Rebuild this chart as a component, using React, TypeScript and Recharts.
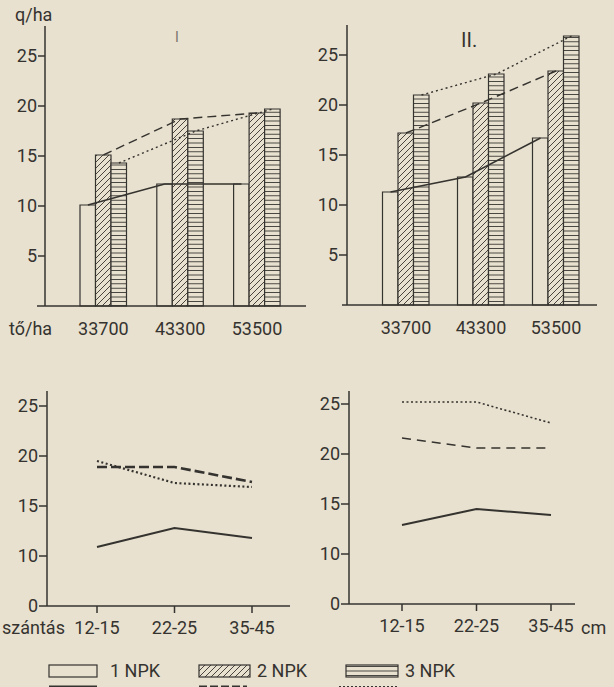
import { ComposedChart, LineChart, Bar, Line, XAxis, YAxis } from "recharts";

const INK = "#35332f";
const PAPER = "#e8e1cf";
const FONT = "Roboto, 'Liberation Sans', sans-serif";

// upper panels: yield (q/ha) by plant density (tő/ha)
const densities = ["33700", "43300", "53500"];
const topI_npk1 = [10.1, 12.2, 12.2];
const topI_npk2 = [15.1, 18.7, 19.3];
const topI_npk3 = [14.3, 17.5, 19.7];
const topII_npk1 = [11.3, 12.8, 16.7];
const topII_npk2 = [17.2, 20.2, 23.4];
const topII_npk3 = [21.0, 23.1, 26.9];

// lower panels: yield by ploughing depth (szántás, cm)
const depths = ["12-15", "22-25", "35-45"];
const botI_npk1 = [10.9, 12.8, 11.8];
const botI_npk2 = [18.9, 18.9, 17.4];
const botI_npk3 = [19.5, 17.3, 16.9];
const botII_npk1 = [12.9, 14.5, 13.9];
const botII_npk2 = [21.6, 20.6, 20.6];
const botII_npk3 = [25.2, 25.2, 23.1];

const topTicks = [5, 10, 15, 20, 25];
// lower panels use a broken axis: the "0" tick sits where 5 would be
const AXIS_BREAK = 5;
const botTicks = [AXIS_BREAK, 10, 15, 20, 25];

const BAR = 15.5;

const tickStyle = { fill: INK, fontSize: 18, fontFamily: FONT };
const axisStyle = { stroke: INK, strokeWidth: 1.5 };

type TopProps = {
  n1: number[];
  n2: number[];
  n3: number[];
  width: number;
  height: number;
  margin: { top: number; right: number; bottom: number; left: number };
  yWidth: number;
  padL: number;
  padR: number;
  tickSize: number;
};

function TopPanel({ n1, n2, n3, width, height, margin, yWidth, padL, padR, tickSize }: TopProps) {
  const data = densities.map((name, i) => ({ name, n1: n1[i], n2: n2[i], n3: n3[i] }));
  return (
    <ComposedChart width={width} height={height} data={data} margin={margin} barGap={0} barCategoryGap={0}>
      <XAxis
        dataKey="name"
        interval={0}
        padding={{ left: padL, right: padR }}
        stroke={INK}
        tickLine={false}
        tickSize={0}
        tickMargin={16}
        height={30}
        axisLine={axisStyle}
        tick={tickStyle}
      />
      {/* hidden axes so each line runs over the top of its own bar */}
      <XAxis xAxisId="a" dataKey="name" hide padding={{ left: padL - BAR, right: padR + BAR }} />
      <XAxis xAxisId="c" dataKey="name" hide padding={{ left: padL + BAR, right: padR - BAR }} />
      <YAxis
        domain={[0, 28]}
        ticks={topTicks}
        width={yWidth}
        stroke={INK}
        tickSize={tickSize}
        tickMargin={1}
        axisLine={axisStyle}
        tickLine={axisStyle}
        tick={tickStyle}
      />
      <Bar dataKey="n1" barSize={BAR} fill={PAPER} stroke={INK} strokeWidth={1.2} isAnimationActive={false} />
      <Bar dataKey="n2" barSize={BAR} fill="url(#hatch)" stroke={INK} strokeWidth={1.2} isAnimationActive={false} />
      <Bar dataKey="n3" barSize={BAR} fill="url(#horiz)" stroke={INK} strokeWidth={1.2} isAnimationActive={false} />
      <Line xAxisId="a" dataKey="n1" type="linear" stroke={INK} strokeWidth={1.6} dot={false} isAnimationActive={false} />
      <Line dataKey="n2" type="linear" stroke={INK} strokeWidth={1.4} strokeDasharray="9 5" dot={false} isAnimationActive={false} />
      <Line xAxisId="c" dataKey="n3" type="linear" stroke={INK} strokeWidth={1.4} strokeDasharray="2 3" dot={false} isAnimationActive={false} />
    </ComposedChart>
  );
}

type BotProps = {
  n1: number[];
  n2: number[];
  n3: number[];
  width: number;
  height: number;
  margin: { top: number; right: number; bottom: number; left: number };
  yWidth: number;
  yMax: number;
  padL: number;
  padR: number;
  heavy: boolean;
};

function BottomPanel({ n1, n2, n3, width, height, margin, yWidth, yMax, padL, padR, heavy }: BotProps) {
  const data = depths.map((name, i) => ({ name, n1: n1[i], n2: n2[i], n3: n3[i] }));
  return (
    <LineChart width={width} height={height} data={data} margin={margin}>
      <XAxis
        dataKey="name"
        scale="point"
        interval={0}
        padding={{ left: padL, right: padR }}
        stroke={INK}
        tickSize={7}
        tickMargin={8}
        height={30}
        axisLine={axisStyle}
        tickLine={axisStyle}
        tick={tickStyle}
      />
      <YAxis
        domain={[AXIS_BREAK, yMax]}
        ticks={botTicks}
        tickFormatter={(v) => (v === AXIS_BREAK ? "0" : String(v))}
        width={yWidth}
        stroke={INK}
        tickSize={8}
        tickMargin={1}
        axisLine={axisStyle}
        tickLine={axisStyle}
        tick={tickStyle}
      />
      <Line dataKey="n1" type="linear" stroke={INK} strokeWidth={2} dot={false} isAnimationActive={false} />
      <Line
        dataKey="n2"
        type="linear"
        stroke={INK}
        strokeWidth={heavy ? 2.6 : 1.6}
        strokeDasharray={heavy ? "10 4" : "9 6"}
        dot={false}
        isAnimationActive={false}
      />
      <Line
        dataKey="n3"
        type="linear"
        stroke={INK}
        strokeWidth={heavy ? 2.2 : 1.6}
        strokeDasharray="2 2.5"
        dot={false}
        isAnimationActive={false}
      />
    </LineChart>
  );
}

export default function App() {
  return (
    <div
      style={{
        position: "absolute",
        left: 0,
        top: 0,
        width: 614,
        height: 687,
        background: PAPER,
        overflow: "hidden",
        fontFamily: FONT,
      }}
    >
      <svg width={0} height={0} style={{ position: "absolute" }}>
        <defs>
          <pattern id="hatch" width={6} height={6} patternUnits="userSpaceOnUse">
            <rect width={6} height={6} fill={PAPER} />
            <path d="M-1,1 l2,-2 M0,6 l6,-6 M5,7 l2,-2" stroke={INK} strokeWidth={0.9} />
          </pattern>
          <pattern id="horiz" width={6} height={4.4} patternUnits="userSpaceOnUse">
            <rect width={6} height={4.4} fill={PAPER} />
            <line x1={0} y1={2.2} x2={6} y2={2.2} stroke={INK} strokeWidth={0.9} />
          </pattern>
        </defs>
      </svg>

      <div style={{ position: "absolute", left: 0, top: 0 }}>
        <TopPanel
          n1={topI_npk1}
          n2={topI_npk2}
          n3={topI_npk3}
          width={310}
          height={345}
          margin={{ top: 26, right: 4, bottom: 9, left: 0 }}
          yWidth={45}
          padL={20}
          padR={10.6}
          tickSize={7}
        />
      </div>
      <div style={{ position: "absolute", left: 300, top: 0 }}>
        <TopPanel
          n1={topII_npk1}
          n2={topII_npk2}
          n3={topII_npk3}
          width={314}
          height={345}
          margin={{ top: 25, right: 17, bottom: 10, left: 0 }}
          yWidth={47}
          padL={21.5}
          padR={3.5}
          tickSize={8}
        />
      </div>
      <div style={{ position: "absolute", left: 0, top: 380 }}>
        <BottomPanel
          n1={botI_npk1}
          n2={botI_npk2}
          n3={botI_npk3}
          width={300}
          height={270}
          margin={{ top: 11, right: 10, bottom: 14, left: 0 }}
          yWidth={47}
          yMax={26.5}
          padL={50}
          padR={38}
          heavy={true}
        />
      </div>
      <div style={{ position: "absolute", left: 300, top: 380 }}>
        <BottomPanel
          n1={botII_npk1}
          n2={botII_npk2}
          n3={botII_npk3}
          width={314}
          height={270}
          margin={{ top: 11, right: 39, bottom: 16, left: 0 }}
          yWidth={49}
          yMax={26.3}
          padL={53}
          padR={24}
          heavy={false}
        />
      </div>

      <svg width={614} height={687} style={{ position: "absolute", left: 0, top: 0, pointerEvents: "none" }}>
        {/* short stubs where the upper x axes run past the y axes */}
        <line x1={37} y1={306} x2={45} y2={306} stroke={INK} strokeWidth={1.5} />
        <line x1={342} y1={305} x2={347} y2={305} stroke={INK} strokeWidth={1.5} />
        <g fill={INK} fontFamily={FONT} fontSize={18}>
          <text x={15} y={21}>q/ha</text>
          <text x={175} y={42} fontSize={14} fill="#77736b">I</text>
          <text x={461} y={47} fontSize={20}>II.</text>
          <text x={9} y={335}>tő/ha</text>
          <text x={2} y={634}>szántás</text>
          <text x={581} y={634}>cm</text>
          <text x={110} y={677}>1 NPK</text>
          <text x={257} y={677}>2 NPK</text>
          <text x={405} y={677}>3 NPK</text>
        </g>
        <rect x={49} y={665} width={48} height={12} fill={PAPER} stroke={INK} strokeWidth={1.2} />
        <rect x={199} y={665} width={51} height={12} fill="url(#hatch)" stroke={INK} strokeWidth={1.2} />
        <rect x={346} y={665} width={52} height={12} fill="url(#horiz)" stroke={INK} strokeWidth={1.2} />
        <line x1={49} y1={687} x2={97} y2={687} stroke={INK} strokeWidth={3} />
        <line x1={199} y1={687} x2={247} y2={687} stroke={INK} strokeWidth={3} strokeDasharray="8 3" />
        <line x1={339} y1={687} x2={397} y2={687} stroke={INK} strokeWidth={2} strokeDasharray="2 2" />
      </svg>
    </div>
  );
}
